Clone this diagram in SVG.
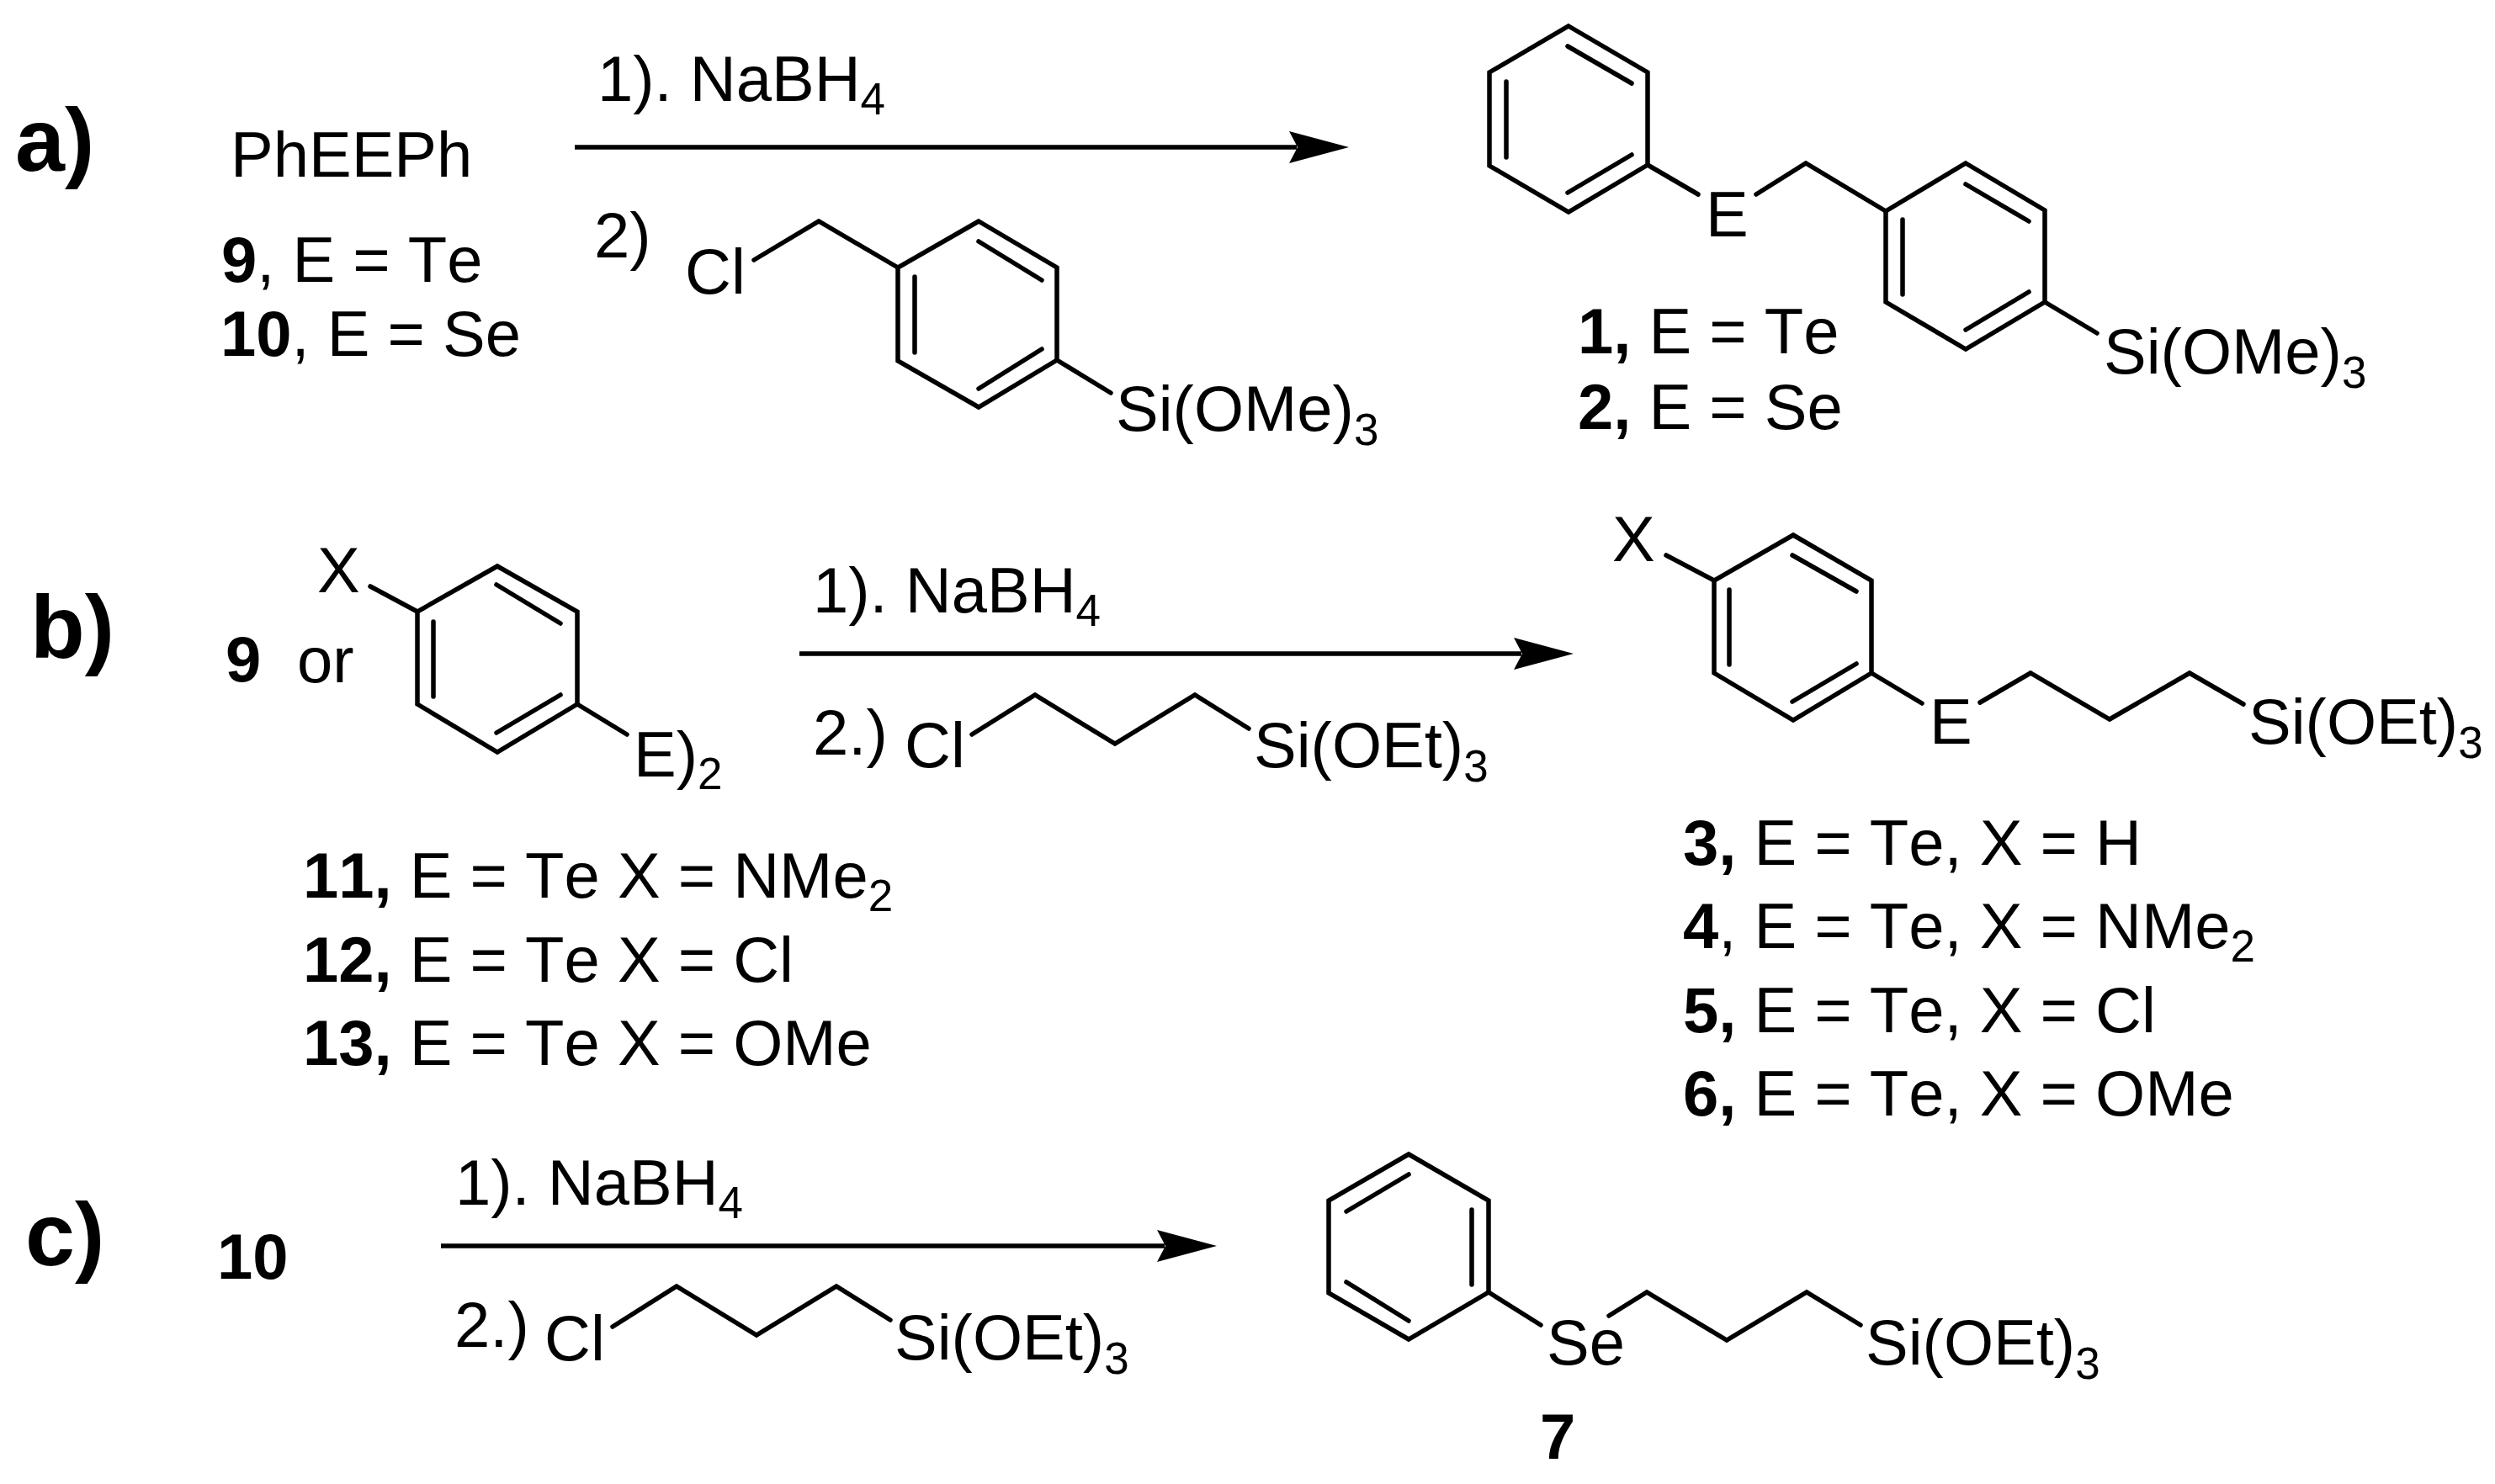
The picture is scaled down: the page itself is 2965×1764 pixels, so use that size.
<svg xmlns="http://www.w3.org/2000/svg" width="2965" height="1764" viewBox="0 0 2965 1764">
<style>
text{font-family:"Liberation Sans",Arial,sans-serif;font-size:76px;fill:#000;font-kerning:none}
.b{font-weight:bold}
.tag{font-weight:bold;font-size:106px}
.s{font-size:53px}
.bond{fill:none;stroke:#000;stroke-width:5.5;stroke-linecap:round;stroke-linejoin:miter}
.arrow{fill:none;stroke:#000;stroke-width:5.5}
</style>
<defs>
<marker id="head" markerUnits="userSpaceOnUse" markerWidth="71" markerHeight="38" viewBox="0 0 71 38" refX="9" refY="19" orient="auto"><path d="M0 0L71 19L0 38L10 19Z" fill="#000"/></marker>
</defs>
<rect width="2965" height="1764" fill="#fff"/>
<g id="connectors">
<line class="arrow" x1="683" y1="175" x2="1541" y2="175" marker-end="url(#head)"/>
<line class="arrow" x1="950" y1="777" x2="1808" y2="777" marker-end="url(#head)"/>
<line class="arrow" x1="524" y1="1481" x2="1384" y2="1481" marker-end="url(#head)"/>
</g>
<g id="tag-a"><text class="tag" x="18" y="203">a)</text></g>
<g id="tag-b"><text class="tag" x="36" y="782">b)</text></g>
<g id="tag-c"><text class="tag" x="30" y="1504">c)</text></g>
<g id="reactant-a">
<text x="274" y="210">PhEEPh</text>
<text x="263" y="335"><tspan class="b">9</tspan>, E = Te</text>
<text x="262" y="423"><tspan class="b">10</tspan>, E = Se</text>
</g>
<g id="reagent-a">
<text x="710" y="120">1). NaBH<tspan class="s" dy="16">4</tspan></text>
<text x="706" y="306">2)</text>
<text x="814" y="349">Cl</text>
<polyline class="bond" points="896,309 973,263 1067,318"/>
<polygon class="bond" points="1163,263 1256,318 1256,428 1163,484 1067,429 1067,318"/>
<path class="bond" d="M1087 329V419M1163 287L1238 333M1238 415L1163 462M1256 428L1320 467"/>
<text x="1326" y="512">Si(OMe)<tspan class="s" dy="17">3</tspan></text>
</g>
<g id="product-a">
<polygon class="bond" points="1864,31 1958,86 1958,196 1864,252 1770,197 1770,86"/>
<path class="bond" d="M1790 97V187M1863 55L1939 99M1939 184L1863 229M1958 196L2018 231"/>
<text x="2027" y="281">E</text>
<polyline class="bond" points="2087,231 2146,194 2241,251"/>
<polygon class="bond" points="2336,194 2430,250 2430,359 2336,415 2241,359 2241,251"/>
<path class="bond" d="M2261 261V350M2336 219L2411 263M2411 347L2336 392M2430 359L2492 396"/>
<text x="2500" y="444">Si(OMe)<tspan class="s" dy="17">3</tspan></text>
<text x="1875" y="420"><tspan class="b">1,</tspan> E = Te</text>
<text x="1875" y="510"><tspan class="b">2,</tspan> E = Se</text>
</g>
<g id="reactant-b">
<text class="b" x="268" y="810">9</text>
<text x="353" y="811">or</text>
<text x="377" y="704">X</text>
<polygon class="bond" points="591,673 686,727 686,837 591,894 496,837 496,727"/>
<path class="bond" d="M440 697L496 727M515 739V828M590 695L666 741M666 826L590 871M686 837L745 873"/>
<text x="753" y="923">E)<tspan class="s" dy="15">2</tspan></text>
<text x="360" y="1067"><tspan class="b">11,</tspan> E = Te X = NMe<tspan class="s" dy="16">2</tspan></text>
<text x="360" y="1167"><tspan class="b">12,</tspan> E = Te X = Cl</text>
<text x="360" y="1266"><tspan class="b">13,</tspan> E = Te X = OMe</text>
</g>
<g id="reagent-b">
<text x="966" y="728">1). NaBH<tspan class="s" dy="16">4</tspan></text>
<text x="966" y="897">2.)</text>
<text x="1075" y="912">Cl</text>
<polyline class="bond" points="1155,873 1230,826 1325,884 1420,826 1484,866"/>
<text x="1490" y="912">Si(OEt)<tspan class="s" dy="17">3</tspan></text>
</g>
<g id="product-b">
<text x="1916" y="667">X</text>
<polygon class="bond" points="2131,636 2224,690 2224,800 2131,856 2037,800 2037,690"/>
<path class="bond" d="M1980 660L2037 690M2055 701V790M2130 660L2206 703M2206 789L2130 834M2224 800L2284 836"/>
<text x="2293" y="884">E</text>
<polyline class="bond" points="2353,835 2413,800 2507,855 2602,800 2666,837"/>
<text x="2672" y="884">Si(OEt)<tspan class="s" dy="17">3</tspan></text>
<text x="2000" y="1028"><tspan class="b">3,</tspan> E = Te, X = H</text>
<text x="2000" y="1127"><tspan class="b">4</tspan>, E = Te, X = NMe<tspan class="s" dy="16">2</tspan></text>
<text x="2000" y="1227"><tspan class="b">5,</tspan> E = Te, X = Cl</text>
<text x="2000" y="1326"><tspan class="b">6,</tspan> E = Te, X = OMe</text>
</g>
<g id="reactant-c"><text class="b" x="258" y="1520">10</text></g>
<g id="reagent-c">
<text x="541" y="1432">1). NaBH<tspan class="s" dy="16">4</tspan></text>
<text x="540" y="1601">2.)</text>
<text x="647" y="1617">Cl</text>
<polyline class="bond" points="728,1577 804,1529 899,1587 994,1529 1058,1569"/>
<text x="1063" y="1616">Si(OEt)<tspan class="s" dy="17">3</tspan></text>
</g>
<g id="product-c">
<polygon class="bond" points="1674,1372 1769,1427 1769,1536 1674,1592 1579,1537 1579,1427"/>
<path class="bond" d="M1749 1438V1527M1674 1396L1600 1440M1600 1524L1674 1570M1769 1536L1831 1575"/>
<text x="1838" y="1622">Se</text>
<polyline class="bond" points="1912,1564 1957,1536 2052,1593 2147,1536 2211,1575"/>
<text x="2217" y="1622">Si(OEt)<tspan class="s" dy="17">3</tspan></text>
<text class="b" x="1830" y="1734">7</text>
</g>
</svg>
